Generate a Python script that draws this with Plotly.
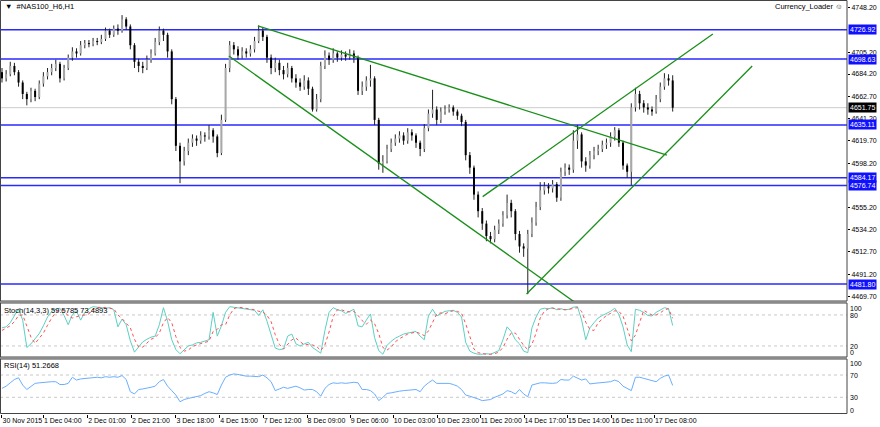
import plotly.graph_objects as go

# ---------------- data ----------------
bar_open = [4686,4680,4684,4692,4686,4676,4665,4660,4668,4662,
            4675,4682,4686,4690,4694,4680,4690,4700,4706,4704,
            4712,4714,4713,4716,4715,4718,4726,4722,4728,4726,
            4737,4730,4712,4696,4692,4690,4698,4704,4715,4726,
            4722,4706,4660,4615,4600,4610,4618,4622,4620,4625,
            4624,4630,4624,4608,4640,4690,4712,4708,4702,4706,
            4704,4708,4716,4726,4720,4700,4690,4695,4688,4684,
            4690,4680,4676,4672,4678,4670,4650,4660,4692,4702,
            4698,4704,4700,4703,4701,4704,4700,4668,4672,4678,
            4680,4640,4598,4600,4612,4618,4622,4625,4620,4628,
            4625,4618,4612,4632,4646,4650,4640,4648,4650,4652,
            4648,4644,4638,4606,4594,4568,4552,4540,4528,4525,
            4534,4540,4548,4560,4552,4530,4518,4516,4530,4541,
            4556,4572,4576,4574,4578,4565,4590,4594,4592,4620,
            4626,4600,4596,4606,4610,4612,4616,4618,4624,4630,
            4618,4596,4590,4652,4665,4656,4652,4650,4648,4660,
            4672,4680,4678]
bar_close = [4680,4684,4692,4686,4676,4665,4660,4668,4662,4675,
             4682,4686,4690,4694,4680,4690,4700,4706,4704,4712,
             4714,4713,4716,4715,4718,4726,4722,4728,4726,4737,
             4730,4712,4696,4692,4690,4698,4704,4715,4726,4722,
             4706,4660,4615,4600,4610,4618,4622,4620,4625,4624,
             4630,4624,4608,4640,4690,4712,4708,4702,4706,4704,
             4708,4716,4726,4720,4700,4690,4695,4688,4684,4690,
             4680,4676,4672,4678,4670,4650,4660,4692,4702,4698,
             4704,4700,4703,4701,4704,4700,4668,4672,4678,4680,
             4640,4598,4600,4612,4618,4622,4625,4620,4628,4625,
             4618,4612,4632,4646,4650,4640,4648,4650,4652,4648,
             4644,4638,4606,4594,4568,4552,4540,4528,4525,4534,
             4540,4548,4560,4552,4530,4518,4516,4530,4541,4556,
             4572,4576,4574,4578,4565,4590,4594,4592,4620,4626,
             4600,4596,4606,4610,4612,4616,4618,4624,4630,4618,
             4596,4590,4652,4665,4656,4652,4650,4648,4660,4672,
             4680,4678,4651.75]
bar_high = [4690,4688,4696,4695,4688,4678,4667,4671,4670,4678,
            4686,4690,4694,4698,4696,4693,4703,4710,4709,4716,
            4717,4717,4719,4719,4722,4729,4728,4731,4732,4741,
            4739,4732,4714,4699,4696,4702,4708,4719,4730,4728,
            4724,4708,4662,4618,4614,4622,4626,4625,4629,4628,
            4635,4632,4626,4645,4694,4716,4715,4711,4710,4709,
            4712,4720,4731,4729,4722,4703,4700,4698,4692,4695,
            4692,4684,4680,4683,4681,4672,4665,4696,4707,4705,
            4709,4706,4707,4706,4708,4707,4702,4677,4682,4693,
            4682,4642,4606,4616,4622,4626,4629,4628,4632,4631,
            4627,4620,4636,4650,4669,4653,4652,4654,4655,4654,
            4650,4646,4640,4609,4596,4571,4555,4543,4532,4538,
            4544,4552,4568,4563,4554,4533,4521,4534,4546,4561,
            4580,4580,4579,4582,4580,4594,4598,4597,4630,4635,
            4628,4604,4610,4614,4616,4620,4622,4628,4633,4632,
            4620,4598,4656,4671,4668,4659,4656,4653,4664,4676,
            4685,4684,4683]
bar_low = [4676,4677,4682,4683,4672,4660,4654,4657,4658,4660,
           4672,4679,4683,4687,4676,4678,4688,4697,4700,4702,
           4709,4710,4711,4712,4713,4716,4719,4720,4722,4724,
           4727,4708,4690,4686,4685,4688,4695,4702,4712,4716,
           4700,4655,4610,4579,4596,4606,4614,4615,4617,4619,
           4621,4618,4604,4606,4638,4686,4703,4698,4699,4700,
           4701,4705,4714,4716,4695,4684,4686,4683,4679,4681,
           4676,4671,4668,4669,4664,4648,4648,4657,4689,4693,
           4695,4696,4697,4697,4698,4695,4664,4664,4668,4672,
           4635,4592,4589,4598,4609,4615,4618,4616,4617,4620,
           4613,4605,4609,4629,4642,4635,4637,4645,4647,4644,
           4640,4634,4601,4588,4563,4546,4534,4523,4521,4522,
           4530,4537,4545,4546,4524,4512,4508,4472,4527,4538,
           4553,4568,4569,4570,4561,4562,4586,4587,4589,4612,
           4594,4590,4593,4602,4606,4609,4612,4614,4620,4614,
           4592,4584,4577,4648,4650,4647,4645,4644,4646,4657,
           4669,4673,4648]

stoch_k = [55,57,65,79,92,70,17,24,33,44,59,76,87,91,93,79,61,81,87,70,
           85,92,96,95,94,93,94,90,57,72,61,30,8,17,28,33,37,39,61,94,
           68,32,13,5,13,20,22,26,27,29,32,85,39,59,85,96,95,94,93,92,
           91,89,79,90,68,41,16,13,14,39,43,24,20,24,27,17,11,6,50,85,
           94,90,88,83,87,91,59,57,70,82,36,11,4,21,29,35,39,43,45,47,
           48,39,32,78,91,78,83,87,88,89,85,76,27,10,6,4,4,5,4,7,
           11,32,57,48,32,24,10,7,55,76,91,93,92,94,90,92,90,91,95,96,
           70,32,55,65,74,79,83,87,93,81,57,22,9,91,89,85,79,78,85,90,
           94,92,59.58]
stoch_d = [50,54,59,67,79,80,60,37,25,34,45,60,74,85,90,88,78,74,77,79,
           80,82,91,94,95,94,94,92,80,73,64,55,33,18,18,26,33,36,45,65,
           75,65,38,17,10,12,19,22,25,27,29,48,52,61,61,80,92,95,94,93,
           92,90,87,86,79,67,42,23,14,22,32,35,29,22,23,22,19,11,22,47,
           77,90,90,87,86,87,79,69,62,70,63,44,17,12,18,28,34,39,43,45,
           47,44,40,49,67,82,84,82,86,88,87,83,63,37,14,7,5,4,4,5,
           8,17,33,45,45,34,21,13,23,45,74,87,92,93,92,92,90,91,92,94,
           87,66,52,50,65,73,79,83,88,87,78,54,30,41,63,89,84,80,80,84,
           90,92,73.49]
rsi_vals = [46,50,56,62,65,52,44,50,55,56,57,58,58,58,53,53,55,66,61,63,
            64,64,65,66,65,67,66,67,66,69,62,40,36,44,45,46,48,50,58,62,
            50,42,34,22,26,28,30,32,33,37,40,38,35,52,66,70,72,71,69,68,
            68,67,67,70,65,58,42,45,48,46,48,50,47,43,44,44,40,32,46,53,
            56,55,56,55,56,57,56,44,44,42,36,24,30,37,38,40,41,42,43,44,
            44,40,50,56,61,55,55,56,55,53,50,44,34,32,30,27,24,25,26,30,
            33,36,42,40,36,44,36,31,52,54,56,56,55,55,56,62,61,61,68,64,
            61,63,54,55,56,57,57,58,61,58,50,46,42,66,66,64,62,59,58,64,
            68,70,51.27]

level_values = [4726.92, 4698.63, 4635.11, 4584.17, 4576.74, 4481.80]
bid_price = 4651.75

# trendlines: (bar_start, price_start, bar_end, price_end)
trend_lines = [
    (61.8, 4730.5, 160.6, 4606.1),
    (54.8, 4701.6, 139.3, 4461.5),
    (116.1, 4566.0, 171.7, 4722.8),
    (126.7, 4472.2, 181.2, 4691.9),
]

price_ticks = [4469.70, 4491.20, 4512.70, 4534.20, 4555.20, 4598.20,
               4619.70, 4641.20, 4662.70, 4684.20, 4705.20, 4748.20]
stoch_levels = [80, 20]
rsi_levels = [70, 30]
stoch_labels = ["100", "80", "20", "0"]
rsi_labels = ["100", "70", "30", "0"]
time_tick_pos = [0, 10, 20.7, 31.3, 42, 52.6, 63.1, 73.7, 84.1, 94.5,
                 105.1, 115.5, 126.1, 136.6, 147.1, 157.6]
time_tick_text = ["30 Nov 2015", "1 Dec 04:00", "2 Dec 01:00", "2 Dec 21:00",
                  "3 Dec 18:00", "4 Dec 15:00", "7 Dec 12:00", "8 Dec 09:00",
                  "9 Dec 06:00", "10 Dec 03:00", "10 Dec 23:00", "11 Dec 20:00",
                  "14 Dec 17:00", "15 Dec 14:00", "16 Dec 11:00", "17 Dec 08:00"]

# ---------------- figure ----------------
FONT = "Liberation Sans, Arial, DejaVu Sans"
H_PLOT = 414.0
def pf(py):  # pixel from top -> paper fraction
    return 1 - py / H_PLOT

fig = go.Figure()

n = len(bar_close)
idx = list(range(n))

wx, wy = [], []
for i in idx:
    wx += [i, i, None]
    wy += [bar_low[i], bar_high[i], None]

bx_up, by_up, bx_dn, by_dn = [], [], [], []
for i in idx:
    if bar_close[i] >= bar_open[i]:
        bx_up += [i, i, None]; by_up += [bar_open[i], bar_close[i], None]
    else:
        bx_dn += [i, i, None]; by_dn += [bar_open[i], bar_close[i], None]

for v in level_values:
    fig.add_trace(go.Scatter(x=[-1, 210], y=[v, v], mode="lines",
                             line=dict(color="#2a2aff", width=1.5),
                             xaxis="x", yaxis="y", hoverinfo="skip"))
fig.add_trace(go.Scatter(x=[-1, 210], y=[bid_price, bid_price], mode="lines",
                         line=dict(color="#cccccc", width=1),
                         xaxis="x", yaxis="y", hoverinfo="skip"))

fig.add_trace(go.Scatter(x=wx, y=wy, mode="lines", line=dict(color="#222222", width=1),
                         xaxis="x", yaxis="y", hoverinfo="skip"))
fig.add_trace(go.Scatter(x=bx_up, y=by_up, mode="lines", line=dict(color="#a8a8a8", width=2),
                         xaxis="x", yaxis="y", hoverinfo="skip"))
fig.add_trace(go.Scatter(x=bx_dn, y=by_dn, mode="lines", line=dict(color="#000000", width=2),
                         xaxis="x", yaxis="y", hoverinfo="skip"))

for (x0, y0, x1, y1) in trend_lines:
    fig.add_trace(go.Scatter(x=[x0, x1], y=[y0, y1], mode="lines",
                             line=dict(color="#1a8f1a", width=1.3),
                             xaxis="x", yaxis="y", hoverinfo="skip"))

fig.add_trace(go.Scatter(x=idx, y=stoch_k, mode="lines", line=dict(color="#5cd0c4", width=1),
                         xaxis="x", yaxis="y2", hoverinfo="skip"))
fig.add_trace(go.Scatter(x=idx, y=stoch_d, mode="lines", line=dict(color="#ff5050", width=1, dash="dot"),
                         xaxis="x", yaxis="y2", hoverinfo="skip"))
fig.add_trace(go.Scatter(x=idx, y=rsi_vals, mode="lines", line=dict(color="#6aaeff", width=1),
                         xaxis="x", yaxis="y3", hoverinfo="skip"))

shapes = []
for lv in stoch_levels:
    shapes.append(dict(type="line", xref="paper", x0=0, x1=1, yref="y2", y0=lv, y1=lv,
                       line=dict(color="#c8c8c8", width=1, dash="dot"), layer="below"))
for lv in rsi_levels:
    shapes.append(dict(type="line", xref="paper", x0=0, x1=1, yref="y3", y0=lv, y1=lv,
                       line=dict(color="#c8c8c8", width=1, dash="dot"), layer="below"))
for (t, b) in [(0.5, 301), (303, 357), (359, 413.5)]:
    shapes.append(dict(type="rect", xref="paper", yref="paper", x0=0.0006, x1=1,
                       y0=pf(b), y1=pf(t), line=dict(color="#444444", width=1)))
for yy in (302, 358):
    shapes.append(dict(type="line", xref="paper", yref="paper", x0=0, x1=1,
                       y0=pf(yy), y1=pf(yy), line=dict(color="#8a8a8a", width=2)))

annotations = []
lab_font = dict(family=FONT, size=7, color="white")
for v in level_values:
    annotations.append(dict(xref="paper", yref="y", x=1, y=v, xanchor="left", yanchor="middle",
                            xshift=1, text="%.2f" % v, showarrow=False,
                            font=lab_font, bgcolor="#1010ff", borderpad=1))
annotations.append(dict(xref="paper", yref="y", x=1, y=bid_price, xanchor="left", yanchor="middle",
                        xshift=1, text="%.2f" % bid_price, showarrow=False,
                        font=lab_font, bgcolor="#000000", borderpad=1))
ind_font = dict(family=FONT, size=7, color="#000000")
# indicator scale labels (MT4 insets the 100/0 labels inside the panel)
for txt, py in zip(stoch_labels, [308.3, 315.0, 346.0, 352.3]):
    annotations.append(dict(xref="paper", yref="paper", x=1, y=pf(py), xanchor="left",
                            yanchor="middle", xshift=1, text=txt, showarrow=False, font=ind_font))
for txt, py in zip(rsi_labels, [363.3, 375.0, 397.3, 410.0]):
    annotations.append(dict(xref="paper", yref="paper", x=1, y=pf(py), xanchor="left",
                            yanchor="middle", xshift=1, text=txt, showarrow=False, font=ind_font))
txt_font = dict(family=FONT, size=7.5, color="#000000")
annotations.append(dict(xref="paper", yref="paper", x=0, y=pf(7), xanchor="left", yanchor="middle",
                        xshift=3, text="▼  #NAS100_H6,H1", showarrow=False, font=txt_font))
annotations.append(dict(xref="paper", yref="paper", x=1, y=pf(7), xanchor="right", yanchor="middle",
                        xshift=-2, text="Currency_Loader ☺", showarrow=False, font=txt_font))
annotations.append(dict(xref="paper", yref="paper", x=0, y=pf(310), xanchor="left", yanchor="middle",
                        xshift=2, text="Stoch(14,3,3) 59.5785 73.4893", showarrow=False, font=txt_font))
annotations.append(dict(xref="paper", yref="paper", x=0, y=pf(365), xanchor="left", yanchor="middle",
                        xshift=2, text="RSI(14) 51.2668", showarrow=False, font=txt_font))

tickfont = dict(family=FONT, size=7, color="#000000")
fig.update_layout(
    width=880, height=427,
    margin=dict(l=0, r=33, t=0, b=13, autoexpand=False),
    paper_bgcolor="white", plot_bgcolor="white",
    showlegend=False, hovermode=False,
    shapes=shapes, annotations=annotations,
    xaxis=dict(domain=[0, 1], anchor="y3", range=[-0.48, 204.1],
               tickmode="array", tickvals=time_tick_pos, ticktext=time_tick_text,
               ticks="outside", ticklen=3, tickcolor="#000", ticklabelposition="outside right",
               tickangle=0, automargin=False,
               showgrid=False, zeroline=False, showline=False, tickfont=tickfont),
    yaxis=dict(domain=[pf(301), 1], anchor="x", side="right", range=[4465.42, 4755.55],
               tickmode="array", tickvals=price_ticks, ticktext=["%.2f" % v for v in price_ticks],
               ticks="outside", ticklen=2, tickcolor="#000", showgrid=False, zeroline=False,
               automargin=False, tickfont=tickfont),
    yaxis2=dict(domain=[pf(357), pf(303)], anchor="x", side="right", range=[-1.35, 103.1],
                showticklabels=False, ticks="", showgrid=False, zeroline=False, automargin=False),
    yaxis3=dict(domain=[0, pf(359)], anchor="x", side="right", range=[0, 98.8],
                showticklabels=False, ticks="", showgrid=False, zeroline=False, automargin=False),
)

fig.write_html("out.html", config={"displayModeBar": False},
               post_script="document.body.style.margin='0';document.body.style.overflow='hidden';")
